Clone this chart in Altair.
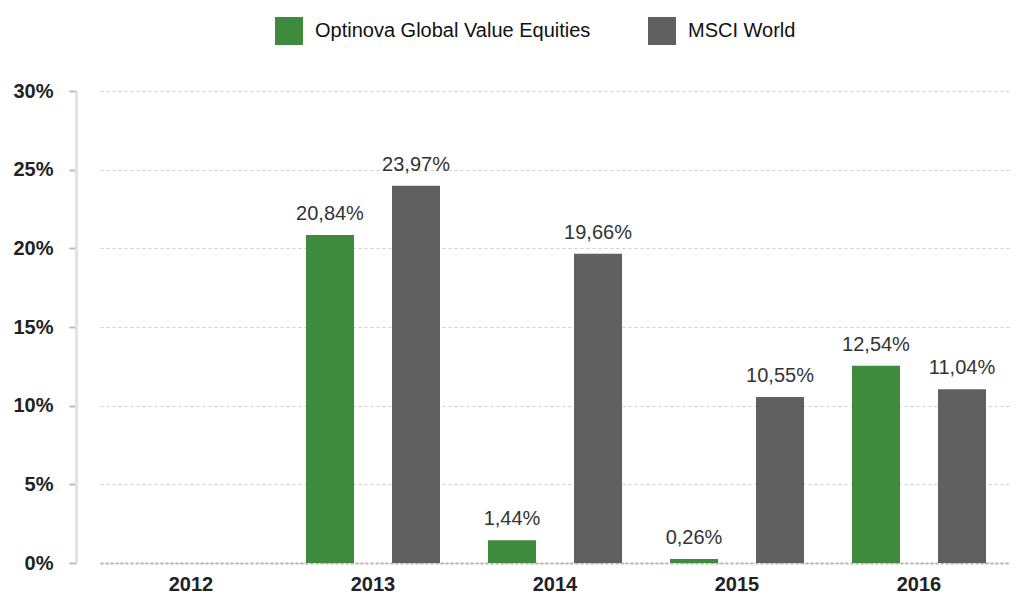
import altair as alt
import pandas as pd

years = ["2012", "2013", "2014", "2015", "2016"]
series = ["Optinova Global Value Equities", "MSCI World"]
optinova = [None, 20.84, 1.44, 0.26, 12.54]
msci = [None, 23.97, 19.66, 10.55, 11.04]
colors = ["#3f8b3d", "#606060"]
y_ticks = [0, 5, 10, 15, 20, 25, 30]

rows = []
for i, yr in enumerate(years):
    for s, vals in zip(series, [optinova, msci]):
        v = vals[i]
        if v is None:
            continue
        rows.append({"year": yr, "series": s, "value": v,
                     "label": f"{v:.2f}".replace(".", ",") + "%"})
df = pd.DataFrame(rows)

FONT = "Liberation Sans"

x = alt.X("year:N",
          scale=alt.Scale(domain=years, range=[24, 934], paddingInner=0, paddingOuter=0),
          axis=alt.Axis(title=None, labelAngle=0, ticks=False, grid=False,
                        labelFont=FONT, labelFontSize=20, labelFontWeight="bold",
                        labelColor="#222222", labelPadding=11,
                        domainColor="#b5b5b5", domainDash=[3, 2], domainWidth=2))
xo = alt.XOffset("series:N",
                 scale=alt.Scale(domain=series, paddingInner=0, paddingOuter=0.058))
y = alt.Y("value:Q",
          scale=alt.Scale(domain=[0, 30], nice=False, zero=True),
          axis=alt.Axis(title=None, values=y_ticks, labelExpr="datum.value + '%'",
                        labelFont=FONT, labelFontSize=20, labelFontWeight="bold",
                        labelColor="#222222", labelPadding=16,
                        tickColor="#bbbbbb", tickSize=7, tickWidth=2,
                        domainColor="#e2e2e2", domainWidth=3,
                        grid=True, gridColor="#cfcfcf", gridDash=[3, 3], gridWidth=1))
color = alt.Color("series:N",
                  scale=alt.Scale(domain=series, range=colors),
                  legend=alt.Legend(title=None, orient="none", legendX=199, legendY=-74,
                                    direction="horizontal", symbolType="square",
                                    symbolSize=784, symbolStrokeWidth=0,
                                    labelFont=FONT, labelFontSize=20, labelColor="#111111",
                                    labelLimit=0, labelOffset=12, columnPadding=57))

base = alt.Chart(df)
bars = base.mark_bar(width=48).encode(x=x, xOffset=xo, y=y, color=color)
labels = base.mark_text(font=FONT, fontSize=20, color="#333333", dy=-15,
                        baseline="alphabetic", align="center").encode(
    x=x, xOffset=xo, y=y, text="label:N")

chart = alt.layer(bars, labels).properties(
    width=934, height=472,
    autosize=alt.AutoSizeParams(type="none"),
    padding={"left": 76, "top": 91, "right": 10, "bottom": 34},
    background="white",
).configure_view(stroke=None)

chart.save("out.html", embed_options={"renderer": "svg", "actions": False})
